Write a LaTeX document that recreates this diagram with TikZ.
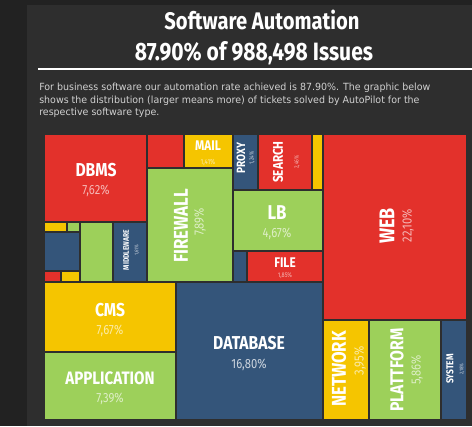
\documentclass[tikz,border=0pt]{standalone}
\usepackage{fontspec}
\newfontfamily\lab{Fira Sans}[FakeStretch=0.84]
\newfontfamily\bodyf{DejaVu Sans}[FakeStretch=0.96]
\definecolor{outer}{HTML}{222222}
\definecolor{panel}{HTML}{2E2E2E}
\definecolor{tred}{HTML}{E3312B}
\definecolor{tyel}{HTML}{F5C500}
\definecolor{tgrn}{HTML}{9DD05A}
\definecolor{tblu}{HTML}{34557A}
\newcommand{\fsz}[1]{\fontsize{#1}{#1}\selectfont}
\begin{document}
\begin{tikzpicture}[x=0.75pt,y=-0.75pt,
  tile/.style={draw=panel,line width=1.3pt},
  lbl/.style={text=white,inner sep=0pt,font=\lab\bfseries\fsz{#1}},
  pctx/.style={inner sep=0pt,font=\lab\fsz{#1}},
  ttl/.style={text=white,inner sep=0pt,font=\lab\bfseries\fsz{#1}},
  bodytext/.style={text=black!18,inner sep=0pt,anchor=base west,font=\bodyf\fsz{7.4}}]
\useasboundingbox (0,0) rectangle (472,426);
\fill[outer] (0,0) rectangle (472,426);
\fill[panel] (27,5) rectangle (472,426);
% title
\node[ttl=18] (t1) at (262,20) {Software Automation};
\node[ttl=18.8] (t2) at (254,53) {87.90\% of 988,498 Issues};
\coordinate (r1) at (38,69);
\coordinate (r2) at (472,69);
\draw[white,line width=1.6pt] (r1) -- (r2);
\node[bodytext] (b1) at (39,90) {For business software our automation rate achieved is 87.90\%. The graphic below};
\node[bodytext] (b2) at (39,103) {shows the distribution (larger means more) of tickets solved by AutoPilot for the};
\node[bodytext] (b3) at (39,115) {respective software type.};
% tiles
\filldraw[tile,fill=tred] (44,134) rectangle (147,222);
\filldraw[tile,fill=tred] (147,134) rectangle (184,168);
\filldraw[tile,fill=tyel] (184,134) rectangle (233,168);
\filldraw[tile,fill=tblu] (233,134) rectangle (258,190);
\filldraw[tile,fill=tred] (258,134) rectangle (312,190);
\filldraw[tile,fill=tyel] (312,134) rectangle (323,190);
\filldraw[tile,fill=tred] (323,134) rectangle (467,320);
\filldraw[tile,fill=tgrn] (147,168) rectangle (233,282);
\filldraw[tile,fill=tgrn] (233,190) rectangle (323,251);
\filldraw[tile,fill=tblu] (233,251) rectangle (247,282);
\filldraw[tile,fill=tred] (247,251) rectangle (323,282);
\filldraw[tile,fill=tyel] (44,222) rectangle (67,232);
\filldraw[tile,fill=tgrn] (67,222) rectangle (80,232);
\filldraw[tile,fill=tblu] (44,232) rectangle (80,271);
\filldraw[tile,fill=tred] (44,271) rectangle (61,282);
\filldraw[tile,fill=tyel] (61,271) rectangle (80,282);
\filldraw[tile,fill=tgrn] (80,222) rectangle (113,282);
\filldraw[tile,fill=tblu] (113,222) rectangle (147,282);
\filldraw[tile,fill=tyel] (44,282) rectangle (176,352);
\filldraw[tile,fill=tgrn] (44,352) rectangle (176,420);
\filldraw[tile,fill=tblu] (176,282) rectangle (323,420);
\filldraw[tile,fill=tyel] (323,320) rectangle (369,420);
\filldraw[tile,fill=tgrn] (369,320) rectangle (441,420);
\filldraw[tile,fill=tblu] (441,320) rectangle (467,420);
% labels
\node[lbl=14] (dbms) at (96,170) {DBMS};
\node[pctx=10,text=tred!35!white] (dbmsp) at (96,191) {7,62\%};
\node[lbl=10.5] (mail) at (208,146) {MAIL};
\node[pctx=5.5,text=tyel!35!white] (mailp) at (208,162) {1,41\%};
\node[lbl=9,rotate=90] (proxy) at (241,158) {PROXY};
\node[pctx=4.5,rotate=90,text=tblu!25!white] (proxyp) at (252,158) {1,24\%};
\node[lbl=10.5,rotate=90] (search) at (278,162) {SEARCH};
\node[pctx=4.5,rotate=90,text=tred!35!white] (searchp) at (297,162) {2,46\%};
\node[lbl=15,rotate=90] (fw) at (181,226) {FIREWALL};
\node[pctx=10,rotate=90,text=tgrn!35!white] (fwp) at (200,222) {7,89\%};
\node[lbl=15] (lb) at (277,213) {LB};
\node[pctx=10,text=tgrn!35!white] (lbp) at (277,234) {4,67\%};
\node[lbl=10.5] (file) at (285,263) {FILE};
\node[pctx=5,text=tred!35!white] (filep) at (285,276) {1,85\%};
\node[lbl=6,rotate=90] (mw) at (126,250) {MIDDLEWARE};
\node[pctx=4,rotate=90,text=tblu!25!white] (mwp) at (137,250) {1,61\%};
\node[lbl=14] (cms) at (110,310) {CMS};
\node[pctx=10,text=tyel!35!white] (cmsp) at (110,331) {7,67\%};
\node[lbl=13.5] (app) at (110,378) {APPLICATION};
\node[pctx=10,text=tgrn!35!white] (appp) at (110,399) {7,39\%};
\node[lbl=14] (db) at (249,343) {DATABASE};
\node[pctx=10,text=tblu!25!white] (dbp) at (249,365) {16,80\%};
\node[lbl=16,rotate=90] (web) at (387,226) {WEB};
\node[pctx=10,rotate=90,text=tred!35!white] (webp) at (408,226) {22,10\%};
\node[lbl=15,rotate=90] (net) at (339,369) {NETWORK};
\node[pctx=10,rotate=90,text=tyel!35!white] (netp) at (360,361) {3,95\%};
\node[lbl=14,rotate=90] (plat) at (397,370) {PLATTFORM};
\node[pctx=10,rotate=90,text=tgrn!35!white] (platp) at (417,370) {5,86\%};
\node[lbl=7.5,rotate=90] (sys) at (450,369) {SYSTEM};
\node[pctx=4,rotate=90,text=tblu!25!white] (sysp) at (462,369) {2,18\%};
\end{tikzpicture}
\end{document}
